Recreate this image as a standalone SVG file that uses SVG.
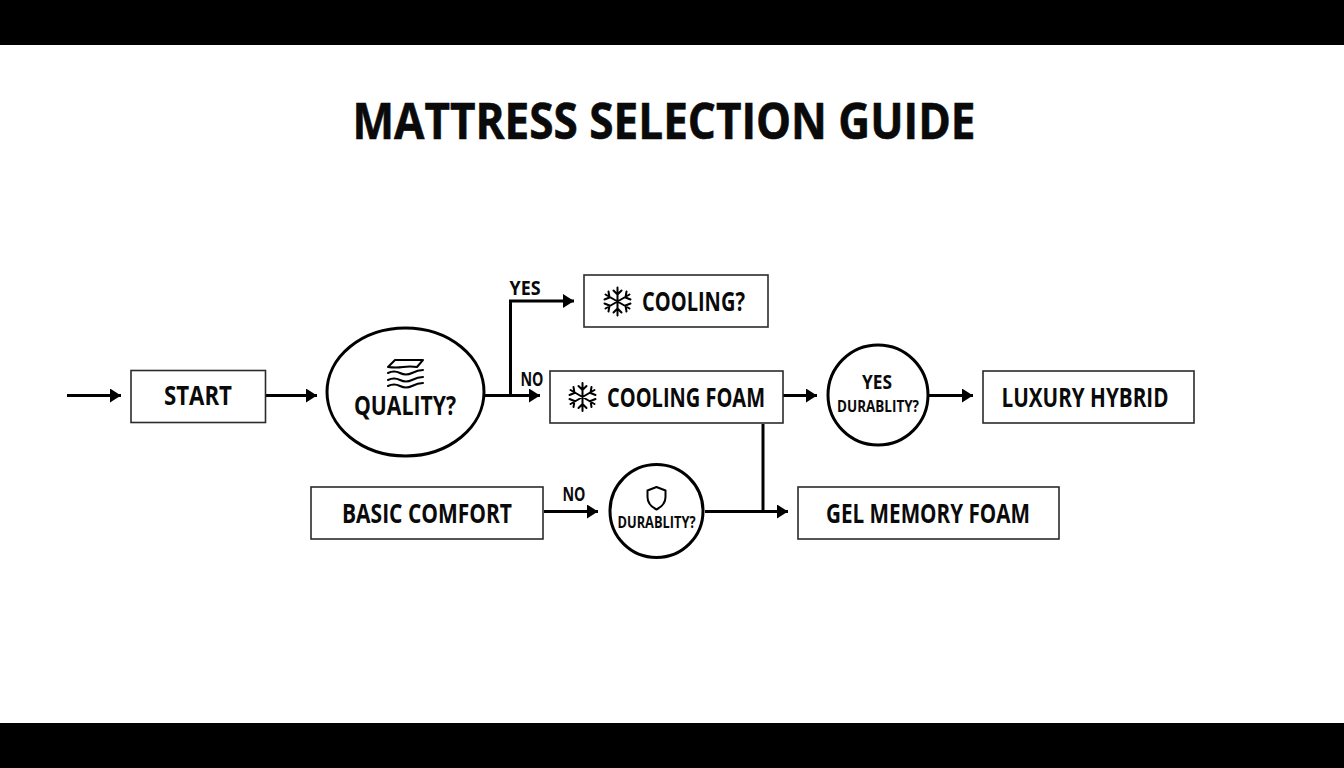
<svg xmlns="http://www.w3.org/2000/svg" width="1344" height="768" viewBox="0 0 1344 768">
<style>
.band{fill:#000}
.box{fill:#fff;stroke:#2b2b2b;stroke-width:1.6}
.circ{fill:#fff;stroke:#000;stroke-width:3}
.t{font-family:"Open Sans","Liberation Sans",sans-serif;font-weight:700;fill:#0a0a0a;text-anchor:middle}
.c{fill:none;stroke:#000;stroke-width:3}
.ico{fill:none;stroke:#000;stroke-width:2;stroke-linecap:round;stroke-linejoin:round}
</style>
<defs>
<marker id="arr" markerUnits="userSpaceOnUse" markerWidth="12" markerHeight="14" refX="11" refY="7" orient="auto"><path d="M0 0L11 7L0 14Z" fill="#000"/></marker>
<g id="flake" class="ico">
<path d="M0-14V14M-12-7L12 7M-12 7L12-7M-4-11L0-7L4-11M-4 11L0 7L4 11M-13-2L-8-4L-9-10M13-2L8-4L9-10M-13 2L-8 4L-9 10M13 2L8 4L9 10"/>
</g>
</defs>
<rect width="1344" height="768" fill="#fff"/>
<rect class="band" width="1344" height="45"/>
<rect class="band" y="723" width="1344" height="45"/>
<text class="t" x="664" y="139" font-size="50" stroke="#0a0a0a" stroke-width="0.6" textLength="623" lengthAdjust="spacingAndGlyphs">MATTRESS SELECTION GUIDE</text>
<g id="connectors">
<path class="c" marker-end="url(#arr)" d="M67 395.500H121"/>
<path class="c" marker-end="url(#arr)" d="M266 395.500H317"/>
<path class="c" marker-end="url(#arr)" d="M484 395.500H540"/>
<path class="c" marker-end="url(#arr)" d="M510.500 395.500V301H574"/>
<path class="c" marker-end="url(#arr)" d="M783 395.500H817"/>
<path class="c" marker-end="url(#arr)" d="M929 395.500H973"/>
<path class="c" marker-end="url(#arr)" d="M544 511.500H598"/>
<path class="c" marker-end="url(#arr)" d="M705 511.500H788"/>
<path class="c" d="M763 424V511"/>
</g>
<g id="start"><rect class="box" x="131" y="370.500" width="134.500" height="52"/><text class="t" x="198" y="405" font-size="26.500" textLength="68" lengthAdjust="spacingAndGlyphs">START</text></g>
<g id="quality"><ellipse class="circ" cx="405.500" cy="392" rx="78.500" ry="64"/>
<path class="ico" stroke-width="1.6" d="M395 360H423L417 367Q410 366 403 367T388 367ZM388 373Q394 370 400 373T412 373T423 370M388 380Q394 377 400 380T412 380T423 377M388 386Q394 383 400 386T412 386T423 383"/>
<text class="t" x="405" y="415" font-size="26.500" textLength="102" lengthAdjust="spacingAndGlyphs">QUALITY?</text></g>
<g id="cooling"><rect class="box" x="584" y="275" width="184" height="52"/><use href="#flake" x="617.500" y="301.500"/><text class="t" x="693.500" y="311" font-size="26.500" textLength="103" lengthAdjust="spacingAndGlyphs">COOLING?</text></g>
<g id="cooling-foam"><rect class="box" x="550" y="371" width="233" height="52"/><use href="#flake" x="582.500" y="397"/><text class="t" x="686" y="407" font-size="26.500" textLength="158" lengthAdjust="spacingAndGlyphs">COOLING FOAM</text></g>
<g id="durability-yes"><circle class="circ" cx="878" cy="395" r="50"/><text class="t" x="877" y="389" font-size="20" textLength="30" lengthAdjust="spacingAndGlyphs">YES</text><text class="t" x="878" y="412" font-size="16" textLength="82" lengthAdjust="spacingAndGlyphs">DURABLITY?</text></g>
<g id="luxury-hybrid"><rect class="box" x="983" y="371" width="211" height="52"/><text class="t" x="1085" y="407" font-size="26.500" textLength="167" lengthAdjust="spacingAndGlyphs">LUXURY HYBRID</text></g>
<g id="basic-comfort"><rect class="box" x="311" y="487" width="232" height="52"/><text class="t" x="427" y="523" font-size="26.500" textLength="170" lengthAdjust="spacingAndGlyphs">BASIC COMFORT</text></g>
<g id="durability-no"><circle class="circ" cx="656.500" cy="511" r="46.500"/>
<path class="ico" d="M656.500 487L665.500 490.500V497Q665.500 505 656.500 509.500Q647.500 505 647.500 497V490.500Z"/>
<text class="t" x="656.500" y="528" font-size="16" textLength="78" lengthAdjust="spacingAndGlyphs">DURABLITY?</text></g>
<g id="gel-memory-foam"><rect class="box" x="798" y="487" width="261" height="52"/><text class="t" x="928" y="523" font-size="26.500" textLength="204" lengthAdjust="spacingAndGlyphs">GEL MEMORY FOAM</text></g>
<g id="labels">
<text class="t" x="525" y="295" font-size="20" textLength="31" lengthAdjust="spacingAndGlyphs">YES</text>
<text class="t" x="532" y="386" font-size="20" textLength="23" lengthAdjust="spacingAndGlyphs">NO</text>
<text class="t" x="574" y="501" font-size="20" textLength="23" lengthAdjust="spacingAndGlyphs">NO</text>
</g>
</svg>
